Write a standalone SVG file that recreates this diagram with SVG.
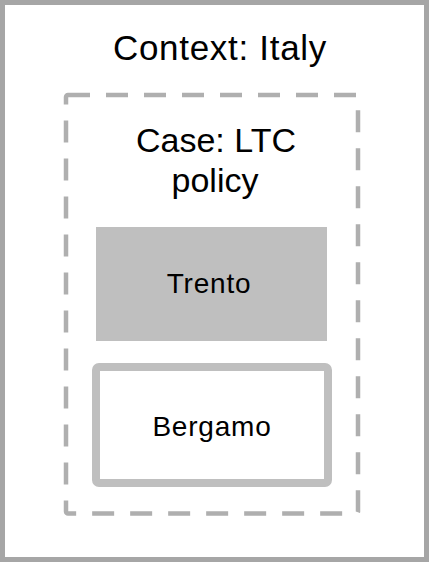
<svg xmlns="http://www.w3.org/2000/svg" width="429" height="562" viewBox="0 0 429 562">
<style>
text{font-family:"Liberation Sans",Arial,sans-serif;fill:#000;text-anchor:middle}
.big{font-size:34px}
.mid{font-size:28px;letter-spacing:0.8px}
</style>
<rect width="429" height="562" fill="#fff"/>
<g id="context">
<rect x="2.5" y="2.5" width="424" height="557" fill="#fff" stroke="#a6a6a6" stroke-width="5"/>
<text class="big" x="220" y="60" style="font-size:35px;letter-spacing:0.7px">Context: Italy</text>
</g>
<g id="case">
<rect x="66" y="95" width="292" height="418.5" rx="2" fill="none" stroke="#afafaf" stroke-width="4.5" stroke-dasharray="22 16"/>
<text class="big" x="216" y="152">Case: LTC</text>
<text class="big" x="215" y="192">policy</text>
</g>
<g id="trento">
<rect x="96" y="227" width="231" height="114" fill="#bfbfbf"/>
<text class="mid" x="209" y="293">Trento</text>
</g>
<g id="bergamo">
<rect x="96" y="367" width="232" height="116" rx="3" fill="#fff" stroke="#bfbfbf" stroke-width="8"/>
<text class="mid" x="212" y="436">Bergamo</text>
</g>
<g id="connectors"/>
</svg>
